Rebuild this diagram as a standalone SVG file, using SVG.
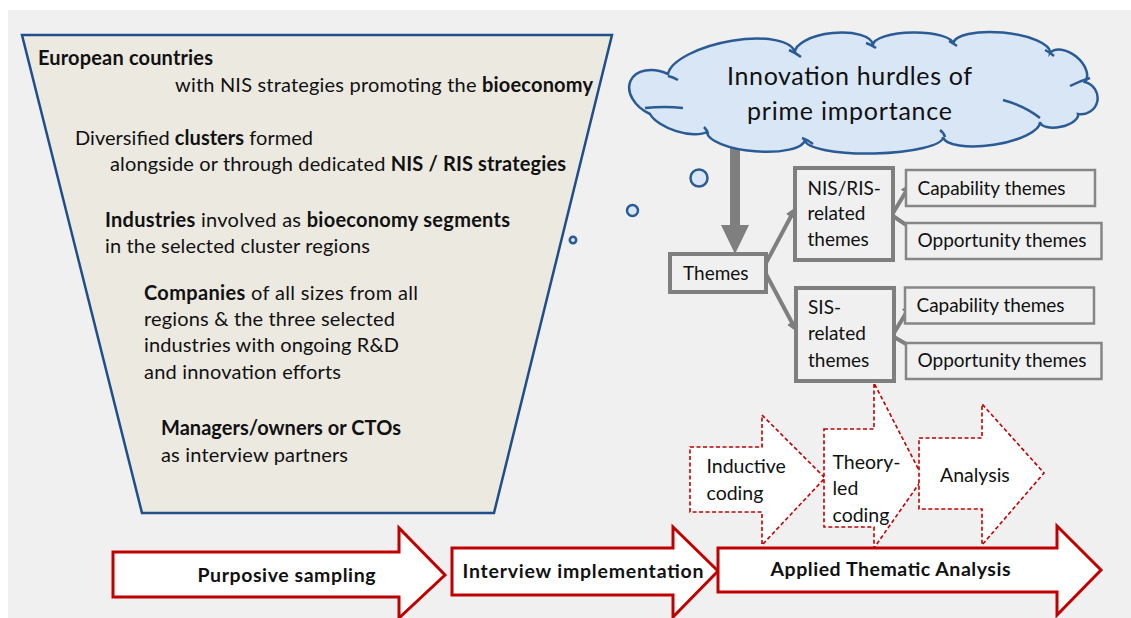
<svg xmlns="http://www.w3.org/2000/svg" width="1131" height="618" viewBox="0 0 1131 618">
<style>
text{font-family:Lato,"Open Sans","Liberation Sans",sans-serif;fill:#111}
.f{font-size:20px}
.b{font-weight:bold}
.bx{font-size:19px}
.cl{font-size:25px}
.dt{font-size:19.5px}
.bt{font-size:19.5px;font-weight:bold}
.gbox{fill:#f0f0f0;stroke:#7f7f7f;stroke-width:4}
.sbox{fill:#f0f0f0;stroke:#868686;stroke-width:2.5}
.conn{stroke:#7f7f7f;stroke-width:4;fill:none;marker-end:url(#ah)}
.dash{fill:#fff;stroke:#c00000;stroke-width:1.6;stroke-dasharray:4 2.5}
.big{fill:#fff;stroke:#c00000;stroke-width:3}
.bub{fill:#d8e6f5;stroke:#2a5b94;stroke-width:2.5}
.crease{fill:none;stroke:#2a5b94;stroke-width:2.5}
</style>
<defs>
<marker id="ah" viewBox="0 0 10 10" refX="1" refY="5" markerWidth="11" markerHeight="11" markerUnits="userSpaceOnUse" orient="auto">
<path d="M0,0 L10,5 L0,10 z" fill="#7f7f7f"/>
</marker>
</defs>
<rect x="8" y="10" width="1123" height="608" fill="#f0f0f0"/>

<g id="funnel">
<polygon points="22,35 612,35 494,513 142,513" fill="#ece9e1" stroke="#1f4e8a" stroke-width="2.5"/>
<text class="f b" x="38" y="65" textLength="175">European countries</text>
<text class="f" x="175" y="92" textLength="418">with NIS strategies promoting the <tspan class="b">bioeconomy</tspan></text>
<text class="f" x="75" y="145" textLength="238">Diversified <tspan class="b">clusters</tspan> formed</text>
<text class="f" x="110" y="171" textLength="456">alongside or through dedicated <tspan class="b">NIS / RIS strategies</tspan></text>
<text class="f" x="105" y="227" textLength="405"><tspan class="b">Industries</tspan> involved as <tspan class="b">bioeconomy segments</tspan></text>
<text class="f" x="105" y="253" textLength="265">in the selected cluster regions</text>
<text class="f" x="144" y="300" textLength="274"><tspan class="b">Companies</tspan>  of all sizes from all</text>
<text class="f" x="144" y="326" textLength="251">regions &amp; the three selected</text>
<text class="f" x="144" y="352" textLength="255">industries with ongoing R&amp;D</text>
<text class="f" x="144" y="379" textLength="197">and innovation efforts</text>
<text class="f b" x="161" y="435" textLength="240">Managers/owners or CTOs</text>
<text class="f" x="161" y="462" textLength="187">as interview partners</text>
</g>

<g id="bubbles">
<circle class="bub" cx="699" cy="178" r="8.5"/>
<circle class="bub" cx="632.5" cy="210.5" r="5.5"/>
<circle class="bub" cx="573" cy="240" r="3.2" stroke-width="2"/>
</g>

<g id="connectors">
<polygon points="730,140 740,140 740,225 749,225 735,254 721,225 730,225" fill="#7f7f7f"/>
<line class="conn" x1="766" y1="263" x2="791.3" y2="215.8"/>
<line class="conn" x1="766" y1="274" x2="792.3" y2="323.2"/>
<line class="conn" x1="893" y1="213" x2="905.9" y2="191.6"/>
<line class="conn" x1="893" y1="216" x2="909.7" y2="227.4"/>
<line class="conn" x1="894" y1="333" x2="906.9" y2="311.6"/>
<line class="conn" x1="894" y1="337" x2="911.3" y2="347"/>
</g>

<g id="cloud">
<path class="bub" d="M650,114 A21 30 -64.6 0 1 668,74 A64.7 24 -11.1 0 1 795,53 A39.2 16 -5.9 0 1 873,45 A40 12 -0.7 0 1 953,44 A48.7 16 5.3 0 1 1050,53 A22.7 14 39.6 0 1 1085,82 A16.4 17 102.3 0 1 1078,114 A19.4 9 168 0 1 1040,122 A49.1 16 171.2 0 1 943,137 A69 15 178.8 0 1 805,140 A49.2 16 -175.3 0 1 707,132 A32.6 14 -162.1 0 1 650,114 Z"/>
<path class="crease" d="M645,108 Q665,106 683,108"/>
<path class="crease" d="M668,76 Q673,77 678,80"/>
<path class="crease" d="M789,50 Q796,53 801,57"/>
<path class="crease" d="M866,43 Q872,45 876,48"/>
<path class="crease" d="M949,41 Q954,44 957,46"/>
<path class="crease" d="M1045,50 Q1051,53 1054,56"/>
<path class="crease" d="M1070,86 Q1080,81 1090,78"/>
<path class="crease" d="M1003,100 Q1025,106 1040,118"/>
<path class="crease" d="M940,130 Q944,133 945,137"/>
<path class="crease" d="M802,138 Q808,140 813,144"/>
<path class="crease" d="M704,127 Q707,130 708,134"/>
<text class="cl" x="849.5" y="85" text-anchor="middle" textLength="245">Innovation hurdles of</text>
<text class="cl" x="849.5" y="120" text-anchor="middle" textLength="205">prime importance</text>
</g>

<g id="themes">
<rect class="gbox" x="670" y="254" width="96" height="38"/>
<text class="bx" x="683" y="280">Themes</text>
</g>
<g id="nisris">
<rect class="gbox" x="795" y="168" width="98" height="92"/>
<text class="bx" x="807.5" y="195">NIS/RIS-</text>
<text class="bx" x="807.5" y="220">related</text>
<text class="bx" x="807.5" y="246">themes</text>
</g>
<g id="sis">
<rect class="gbox" x="796" y="288" width="98" height="93"/>
<text class="bx" x="808" y="314">SIS-</text>
<text class="bx" x="808" y="340">related</text>
<text class="bx" x="808" y="366.5">themes</text>
</g>
<g id="cap1">
<rect class="sbox" x="906" y="170" width="189" height="36"/>
<text class="bx" x="917.5" y="195" textLength="148">Capability themes</text>
</g>
<g id="opp1">
<rect class="sbox" x="906" y="223" width="195.5" height="36"/>
<text class="bx" x="917.5" y="247" textLength="169">Opportunity themes</text>
</g>
<g id="cap2">
<rect class="sbox" x="905" y="287.5" width="189" height="36"/>
<text class="bx" x="916.5" y="312" textLength="148">Capability themes</text>
</g>
<g id="opp2">
<rect class="sbox" x="906" y="343" width="195.5" height="36"/>
<text class="bx" x="917.5" y="367" textLength="169">Opportunity themes</text>
</g>

<g id="inductive">
<polygon class="dash" points="690,447 762,447 762,415 825,478 762,545 762,512 690,512"/>
<text class="dt" x="706.5" y="473">Inductive</text>
<text class="dt" x="706.5" y="500">coding</text>
</g>
<g id="theoryled">
<polygon class="dash" points="824,429 874,429 874,383 923,478 874,548 874,527 824,527"/>
<text class="dt" x="832.5" y="469">Theory-</text>
<text class="dt" x="832.5" y="495">led</text>
<text class="dt" x="832.5" y="522">coding</text>
</g>
<g id="analysis">
<polygon class="dash" points="919,438 982,438 982,404 1044,473 982,545 982,509 919,509"/>
<text class="dt" x="940" y="482">Analysis</text>
</g>

<g id="purposive">
<polygon class="big" points="113,552 399,552 399,528 445,575 399,618 399,597 113,597"/>
<text class="bt" x="197.5" y="582" textLength="178">Purposive sampling</text>
</g>
<g id="interview">
<polygon class="big" points="452,548 673,548 673,527 718,571 673,617 673,595 452,595"/>
<text class="bt" x="462.5" y="578" textLength="241">Interview implementation</text>
</g>
<g id="applied">
<polygon class="big" points="718,548 1057,548 1057,526 1101,570 1057,615 1057,592 718,592"/>
<text class="bt" x="770.5" y="576" textLength="240">Applied Thematic Analysis</text>
</g>
</svg>
